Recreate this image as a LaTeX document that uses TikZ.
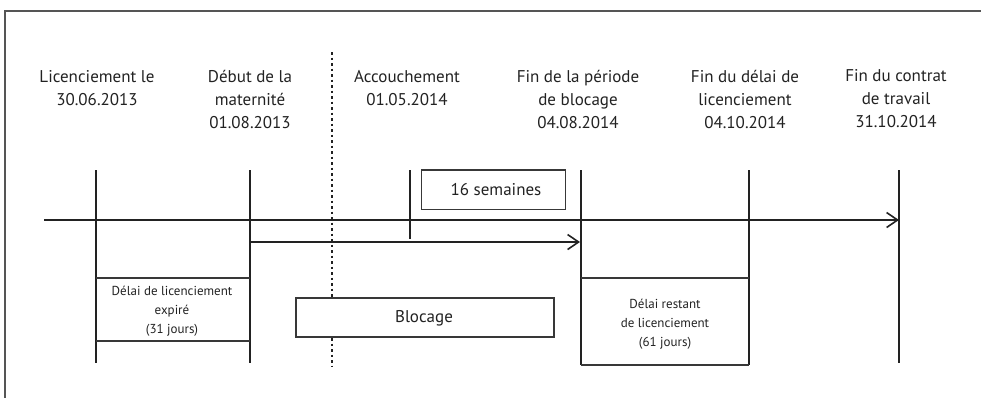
\documentclass[tikz,border=0pt]{standalone}
\usepackage{fontspec}
\setmainfont{PT Sans}
\usetikzlibrary{arrows.meta}
\definecolor{ink}{HTML}{222222}
\definecolor{framec}{HTML}{555555}
\tikzset{
  tick/.style={draw=ink,line width=1.6pt},
  axis/.style={draw=ink,line width=1.6pt,-{Straight Barb[length=11pt,width=15pt,line width=1.6pt]}},
  lbl/.style={align=center,font=\fontsize{17}{23}\selectfont,text=ink,inner sep=0pt},
  boxtxt/.style={align=center,font=\fontsize{13}{19}\selectfont,text=ink,inner sep=0pt},
  bigtxt/.style={align=center,font=\fontsize{17}{23}\selectfont,text=ink,inner sep=0pt},
  frm/.style={draw=ink!90,line width=1.1pt},
}
\begin{document}
\begin{tikzpicture}[x=1pt,y=-1pt]
\useasboundingbox (0,0) rectangle (981,397);
% outer frame (partly visible)
\draw[draw=framec,line width=1.4pt] (5,400) -- (5,11) -- (990,11);
% dotted separator
\draw[draw=ink,line width=1.3pt,dash pattern=on 2.5pt off 3pt] (332,52) -- (332,366);
% coordinates
\coordinate (t1a) at (96,170);  \coordinate (t1b) at (96,363);
\coordinate (t2a) at (250,170); \coordinate (t2b) at (250,363);
\coordinate (t3a) at (410,170); \coordinate (t3b) at (410,239);
\coordinate (t4a) at (581,170); \coordinate (t4b) at (581,365);
\coordinate (t5a) at (749,170); \coordinate (t5b) at (749,365);
\coordinate (t6a) at (899,170); \coordinate (t6b) at (899,363);
\coordinate (ax0) at (44,220);  \coordinate (ax1) at (899,220);
\coordinate (ar0) at (250,242); \coordinate (ar1) at (580,242);
% ticks
\draw[tick] (t1a) -- (t1b);
\draw[tick] (t2a) -- (t2b);
\draw[tick] (t3a) -- (t3b);
\draw[tick] (t4a) -- (t4b);
\draw[tick] (t5a) -- (t5b);
\draw[tick] (t6a) -- (t6b);
% arrows
\draw[axis] (ax0) -- (ax1);
\draw[axis] (ar0) -- (ar1);
% labels
\node[lbl] (l1) at (97,88) {Licenciement le\\30.06.2013};
\node[lbl] (l2) at (250,99) {Début de la\\maternité\\01.08.2013};
\node[lbl] (l3) at (407,88) {Accouchement\\01.05.2014};
\node[lbl] (l4) at (578,99) {Fin de la période\\de blocage\\04.08.2014};
\node[lbl] (l5) at (745,99) {Fin du délai de\\licenciement\\04.10.2014};
\node[lbl] (l6) at (896,99) {Fin du contrat\\de travail\\31.10.2014};
% 16 semaines box
\draw[frm] (421.5,170) rectangle (565.5,209.5);
\node[bigtxt] (sem) at (496,190) {16 semaines};
% expired delay box
\draw[frm] (96,278) -- (250,278);
\draw[frm] (96,341) -- (250,341);
\node[boxtxt] (exp) at (172,311) {Délai de licenciement\\expiré\\(31 jours)};
% blocage box
\draw[frm,fill=white] (296,298) rectangle (554,337);
\node[bigtxt] (blk) at (424,318) {Blocage};
% remaining delay box
\draw[frm] (581,278) -- (749,278);
\draw[frm] (581,365) -- (749,365);
\node[boxtxt] (rest) at (665,324) {Délai restant\\de licenciement\\(61 jours)};
\end{tikzpicture}
\end{document}
